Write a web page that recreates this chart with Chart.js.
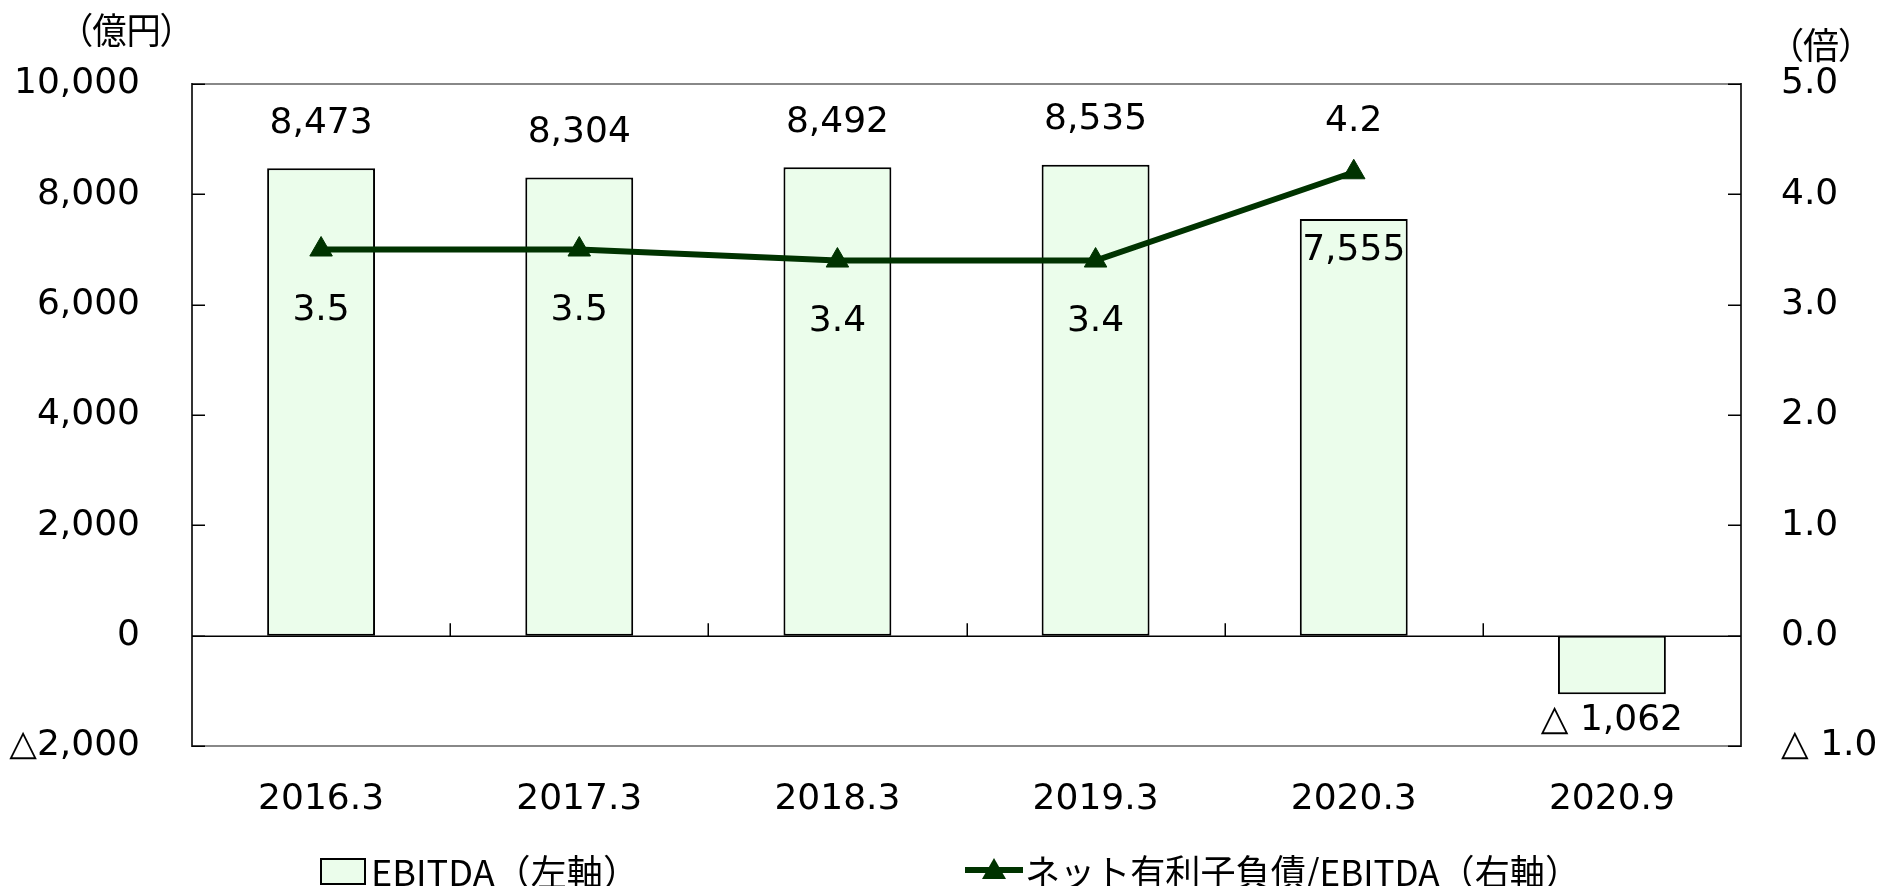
<!DOCTYPE html>
<html>
<head>
<meta charset="utf-8">
<script src="https://cdn.jsdelivr.net/npm/chart.js@4.4.1/dist/chart.umd.min.js"></script>
<style>
html,body{margin:0;padding:0;background:#fff;}
#wrap{position:relative;width:1891px;height:886px;overflow:hidden;background:#fff;}
#c{position:absolute;left:0;top:0;}
.txt{position:absolute;font-family:"Noto Sans CJK JP";font-size:36px;line-height:1;white-space:nowrap;color:#000;transform-origin:left top;}
.unit{font-feature-settings:"palt";}
#legBox{position:absolute;box-sizing:border-box;border:2px solid #000;background:#EBFDEB;}
#legLine{position:absolute;}
</style>
</head>
<body>
<div id="wrap">
<canvas id="c" width="1891" height="886"></canvas>
<div class="txt unit" id="unitL"></div>
<div class="txt unit" id="unitR"></div>
<div id="legBox"></div>
<div class="txt" id="legT1"></div>
<svg id="legLine" width="60" height="30"></svg>
<div class="txt" id="legT2"></div>
</div>
<script>
// ---- data ----
const categories = ['2016.3', '2017.3', '2018.3', '2019.3', '2020.3', '2020.9'];
const ebitda = [8473, 8304, 8492, 8535, 7555, -1062];
const ebitdaLabels = ['8,473', '8,304', '8,492', '8,535', '7,555', '△ 1,062'];
const ratio = [3.5, 3.5, 3.4, 3.4, 4.2, null];
const ratioLabels = ['3.5', '3.5', '3.4', '3.4', '4.2', ''];
const leftTickLabels = ['△2,000', '0', '2,000', '4,000', '6,000', '8,000', '10,000'];
const rightTickLabels = ['△ 1.0', '0.0', '1.0', '2.0', '3.0', '4.0', '5.0'];
const seriesNames = ['EBITDA（左軸）', 'ネット有利子負債/EBITDA（右軸）'];
const unitLeft = '（億円）';
const unitRight = '（倍）';

// ---- label placement (style config) ----
const barPlacement = ['above', 'above', 'above', 'above', 'inside', 'below'];
const linePlacement = ['below', 'below', 'below', 'below', 'above', 'none'];

const BAR_FILL = '#EBFDEB';
const LINE_COLOR = '#003300';
const NUM_FONT = '36px "DejaVu Sans"';

const framePlugin = {
  id: 'frame',
  beforeDatasetsDraw(chart) {
    const ctx = chart.ctx;
    const {left, right, top, bottom} = chart.chartArea;
    const ys = chart.scales.y, yr = chart.scales.y1, xs = chart.scales.x;
    ctx.save();
    // frame
    ctx.lineWidth = 2;
    ctx.strokeStyle = '#888888';
    ctx.beginPath();
    ctx.moveTo(left, top); ctx.lineTo(right, top);
    ctx.moveTo(left, bottom); ctx.lineTo(right, bottom);
    ctx.stroke();
    ctx.strokeStyle = '#333333';
    ctx.beginPath();
    ctx.moveTo(left, top - 1); ctx.lineTo(left, bottom + 1);
    ctx.moveTo(right, top - 1); ctx.lineTo(right, bottom + 1);
    ctx.stroke();
    // inner ticks
    ctx.strokeStyle = '#000';
    ctx.lineWidth = 1.5;
    ctx.beginPath();
    ys.ticks.forEach(t => {
      const y = Math.round(ys.getPixelForValue(t.value)) + 0.25;
      ctx.moveTo(left, y); ctx.lineTo(left + 13, y);
    });
    yr.ticks.forEach(t => {
      const y = Math.round(yr.getPixelForValue(t.value)) + 0.25;
      ctx.moveTo(right - 13, y); ctx.lineTo(right, y);
    });
    ctx.stroke();
    // zero line
    const y0 = Math.round(ys.getPixelForValue(0)) + 0.25;
    ctx.beginPath();
    ctx.moveTo(left, y0); ctx.lineTo(right, y0);
    for (let i = 1; i < categories.length; i++) {
      const xb = Math.round((xs.getPixelForValue(i - 1) + xs.getPixelForValue(i)) / 2) + 0.25;
      ctx.moveTo(xb, y0); ctx.lineTo(xb, y0 - 13);
    }
    ctx.stroke();
    ctx.restore();
  }
};

const labelPlugin = {
  id: 'vlabels',
  afterDatasetsDraw(chart) {
    const ctx = chart.ctx;
    ctx.save();
    ctx.font = NUM_FONT;
    ctx.fillStyle = '#000';
    ctx.textAlign = 'center';
    ctx.textBaseline = 'middle';
    const barMeta = chart.getDatasetMeta(1);
    barMeta.data.forEach((el, i) => {
      const p = barPlacement[i];
      let y;
      if (p === 'below') y = el.y + 26;
      else if (p === 'inside') y = el.y + 32;
      else y = el.y - 45;
      ctx.fillText(ebitdaLabels[i], el.x, y);
    });
    const lineMeta = chart.getDatasetMeta(0);
    lineMeta.data.forEach((el, i) => {
      const p = linePlacement[i];
      if (p === 'none' || ratio[i] === null) return;
      const y = p === 'above' ? el.y - 51 : el.y + 61;
      ctx.fillText(ratioLabels[i], el.x, y);
    });
    ctx.restore();
  }
};

const chart = new Chart(document.getElementById('c'), {
  type: 'bar',
  data: {
    labels: categories,
    datasets: [
      {
        type: 'line',
        label: seriesNames[1],
        data: ratio,
        yAxisID: 'y1',
        borderColor: LINE_COLOR,
        backgroundColor: LINE_COLOR,
        borderWidth: 6,
        pointStyle: 'triangle',
        pointRadius: 13,
        pointBorderWidth: 1,
        pointBackgroundColor: LINE_COLOR,
        pointBorderColor: LINE_COLOR,
        tension: 0,
        spanGaps: false,
        order: 0
      },
      {
        type: 'bar',
        label: seriesNames[0],
        data: ebitda,
        yAxisID: 'y',
        backgroundColor: BAR_FILL,
        borderColor: '#000',
        borderWidth: 2,
        borderSkipped: false,
        barPercentage: 0.418,
        categoryPercentage: 1,
        order: 1
      }
    ]
  },
  options: {
    responsive: false,
    devicePixelRatio: 1,
    animation: false,
    events: [],
    layout: {padding: {top: 84, left: 0, right: 0, bottom: 0}},
    plugins: {legend: {display: false}, tooltip: {enabled: false}, title: {display: false}},
    scales: {
      x: {
        type: 'category',
        position: 'bottom',
        offset: true,
        grid: {display: false, drawTicks: false},
        border: {display: false},
        ticks: {
          font: {family: 'DejaVu Sans', size: 36},
          color: '#000',
          padding: 32,
          maxRotation: 0,
          autoSkip: false
        },
        afterFit(s) { s.height = 140; }
      },
      y: {
        position: 'left',
        min: -2000,
        max: 10000,
        grid: {display: false, drawTicks: false},
        border: {display: false},
        ticks: {
          stepSize: 2000,
          font: {family: 'DejaVu Sans', size: 36},
          color: '#000',
          padding: 52,
          callback: (v, i) => leftTickLabels[i]
        },
        afterFit(s) { s.width = 192; }
      },
      y1: {
        position: 'right',
        min: -1,
        max: 5,
        grid: {display: false, drawTicks: false},
        border: {display: false},
        ticks: {
          stepSize: 1,
          font: {family: 'DejaVu Sans', size: 36},
          color: '#000',
          padding: 40,
          callback: (v, i) => rightTickLabels[i]
        },
        afterFit(s) { s.width = 150; }
      }
    }
  },
  plugins: [framePlugin, labelPlugin]
});

// ---- units & legend (HTML text) ----
function place(el, text, x, y, targetW) {
  el.textContent = text;
  el.style.left = x + 'px';
  el.style.top = y + 'px';
  el.style.transform = 'none';
  const w = el.getBoundingClientRect().width;
  if (targetW && w > 0) el.style.transform = 'scaleX(' + (targetW / w) + ')';
}
place(document.getElementById('unitL'), unitLeft, 75, 10, 103);
place(document.getElementById('unitR'), unitRight, 1785, 25, 72);

const ds = chart.data.datasets;
const box = document.getElementById('legBox');
box.style.left = '320px'; box.style.top = '858px';
box.style.width = '46px'; box.style.height = '27px';
place(document.getElementById('legT1'), ds[1].label, 371, 852, 268);

const svg = document.getElementById('legLine');
svg.style.left = '965px'; svg.style.top = '855px';
svg.innerHTML = '<line x1="0" y1="15" x2="58" y2="15" stroke="' + LINE_COLOR + '" stroke-width="6"/>' +
  '<polygon points="29,3 41,24 17,24" fill="' + LINE_COLOR + '"/>';
place(document.getElementById('legT2'), ds[0].label, 1025, 852, 555);
</script>
</body>
</html>
